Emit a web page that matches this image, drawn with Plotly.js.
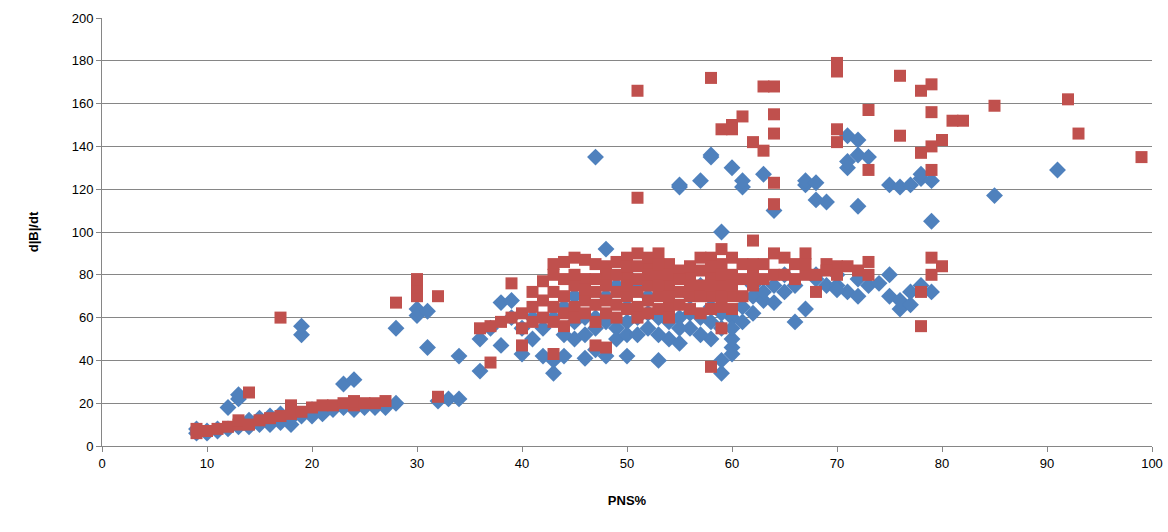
<!DOCTYPE html>
<html><head><meta charset="utf-8">
<script src="https://cdn.plot.ly/plotly-3.0.1.min.js"></script>
<style>body{margin:0;background:#fff}#plot{width:1168px;height:532px}</style>
</head><body><div id="plot"></div>
<script>
// blue diamonds [PNS%, d|B|/dt]
const bluePts = [[9,6],[9,8],[10,6],[10,7],[11,7],[11,8],[12,8],[12,18],[13,9],[13,22],[13,24],[14,9],[14,12],[15,10],[15,13],[16,10],[16,14],[17,11],[17,15],[18,10],[18,13],[19,52],[19,56],[19,14],[20,14],[20,17],[21,15],[22,17],[23,18],[23,29],[24,31],[24,17],[25,18],[26,18],[27,18],[28,20],[28,55],[30,61],[30,64],[31,63],[31,46],[32,21],[33,22],[34,22],[34,42],[36,35],[36,50],[37,55],[38,47],[38,67],[39,68],[39,60],[40,43],[40,55],[41,50],[41,60],[42,42],[42,55],[43,34],[43,40],[43,60],[44,42],[44,65],[45,50],[45,70],[46,41],[46,60],[47,135],[47,45],[47,60],[48,42],[48,92],[48,70],[49,55],[49,75],[50,42],[50,58],[50,80],[51,60],[51,75],[52,55],[52,70],[53,40],[53,60],[53,80],[54,50],[54,65],[55,121],[55,122],[55,48],[55,60],[56,55],[56,70],[57,124],[57,60],[57,75],[58,136],[58,135],[58,50],[58,65],[59,34],[59,100],[59,40],[59,55],[59,80],[60,43],[60,46],[60,50],[60,130],[60,60],[61,121],[61,124],[61,65],[62,70],[62,75],[63,127],[63,68],[64,110],[64,67],[64,75],[65,80],[65,72],[66,58],[67,64],[67,122],[67,124],[68,115],[68,123],[68,80],[69,114],[69,75],[70,75],[70,80],[71,130],[71,145],[71,133],[71,72],[72,112],[72,143],[72,136],[72,70],[73,135],[73,75],[75,122],[75,80],[75,70],[76,64],[76,68],[76,121],[77,66],[77,122],[78,125],[78,127],[79,124],[79,105],[79,72],[85,117],[91,129],
  [44,52],[45,58],[46,52],[47,55],[48,58],[49,50],[50,52],[50,65],[51,52],[52,62],[53,52],[54,58],[55,55],[56,62],[57,52],[58,58],[59,62],[60,55],[61,58],[62,62],[63,72],[66,75],[68,78],[70,73],[72,78],[74,76],[77,72],[78,75]];
// red squares
const redPts = [[9,6],[9,8],[10,7],[11,8],[12,9],[13,10],[13,12],[14,25],[14,10],[15,12],[16,13],[17,60],[17,14],[18,15],[18,19],[19,16],[20,18],[21,19],[22,19],[23,20],[24,19],[24,21],[25,20],[26,20],[27,21],[28,67],[30,70],[30,74],[30,78],[32,70],[32,23],[36,55],[37,39],[37,56],[38,58],[39,76],[39,60],[40,47],[40,62],[41,58],[41,65],[42,77],[42,60],[43,85],[43,80],[43,43],[43,65],[44,86],[44,70],[44,62],[45,88],[45,75],[45,65],[46,87],[46,78],[46,68],[47,85],[47,47],[47,72],[48,46],[48,84],[48,80],[48,68],[49,86],[49,72],[50,88],[50,80],[50,70],[51,166],[51,116],[51,90],[51,78],[51,65],[52,85],[52,75],[52,68],[53,90],[53,80],[53,70],[54,85],[54,75],[54,65],[55,82],[55,72],[56,80],[56,70],[57,88],[57,75],[58,172],[58,37],[58,88],[58,80],[58,70],[59,148],[59,92],[59,55],[59,85],[59,75],[59,65],[60,148],[60,150],[60,88],[60,70],[61,154],[61,85],[62,142],[62,96],[62,80],[63,168],[63,138],[63,85],[64,168],[64,155],[64,146],[64,123],[64,113],[64,90],[64,80],[65,88],[66,85],[67,90],[67,80],[68,72],[69,85],[70,179],[70,175],[70,148],[70,142],[70,84],[71,84],[72,82],[73,157],[73,129],[73,86],[73,80],[76,173],[76,145],[78,166],[78,137],[78,72],[78,56],[79,169],[79,156],[79,140],[79,129],[79,88],[79,80],[80,143],[80,84],[81,152],[82,152],[85,159],[92,162],[93,146],[99,135],
  [40,55],[41,72],[42,68],[43,58],[43,72],[44,78],[44,56],[45,80],[45,60],[46,73],[46,62],[47,78],[47,66],[47,58],[48,75],[48,62],[49,80],[49,66],[49,60],[50,75],[50,64],[50,84],[51,84],[51,72],[51,60],[52,80],[52,62],[52,88],[53,85],[53,75],[53,64],[54,80],[54,70],[54,60],[55,78],[55,66],[56,75],[56,64],[56,84],[57,82],[57,70],[57,62],[58,84],[58,75],[58,64],[59,80],[59,70],[60,80],[60,75],[60,64],[61,78],[61,70],[62,75],[62,85],[63,78],[65,80],[66,78],[67,85],[68,80],[69,82],[70,80]];

const traces = [
  {x: bluePts.map(p => p[0]), y: bluePts.map(p => p[1]), mode: 'markers', type: 'scatter',
   marker: {symbol: 'diamond', size: 13, color: '#4F81BD', line: {width: 0}}},
  {x: redPts.map(p => p[0]), y: redPts.map(p => p[1]), mode: 'markers', type: 'scatter',
   marker: {symbol: 'square', size: 12, color: '#C0504D', line: {width: 0}}}
];

const layout = {
  width: 1168, height: 532, showlegend: false,
  paper_bgcolor: '#fff', plot_bgcolor: '#fff',
  font: {family: 'Liberation Sans, Arial, sans-serif', size: 13, color: '#000'},
  margin: {l: 102, r: 16, t: 18, b: 86},
  xaxis: {range: [0, 100], dtick: 10, showgrid: false, zeroline: false, showline: true,
          linecolor: '#868686', ticks: 'outside', ticklen: 5, tickcolor: '#868686',
          title: {text: '<b>PNS%</b>', font: {size: 13}, standoff: 26}},
  yaxis: {range: [0, 200], dtick: 20, showgrid: true, gridcolor: '#868686', zeroline: false,
          showline: true, linecolor: '#868686', ticks: 'outside', ticklen: 5, tickcolor: '#868686',
          title: {text: '<b>d|B|/dt</b>', font: {size: 13}, standoff: 30}}
};

Plotly.newPlot('plot', traces, layout, {displayModeBar: false});
</script></body></html>
